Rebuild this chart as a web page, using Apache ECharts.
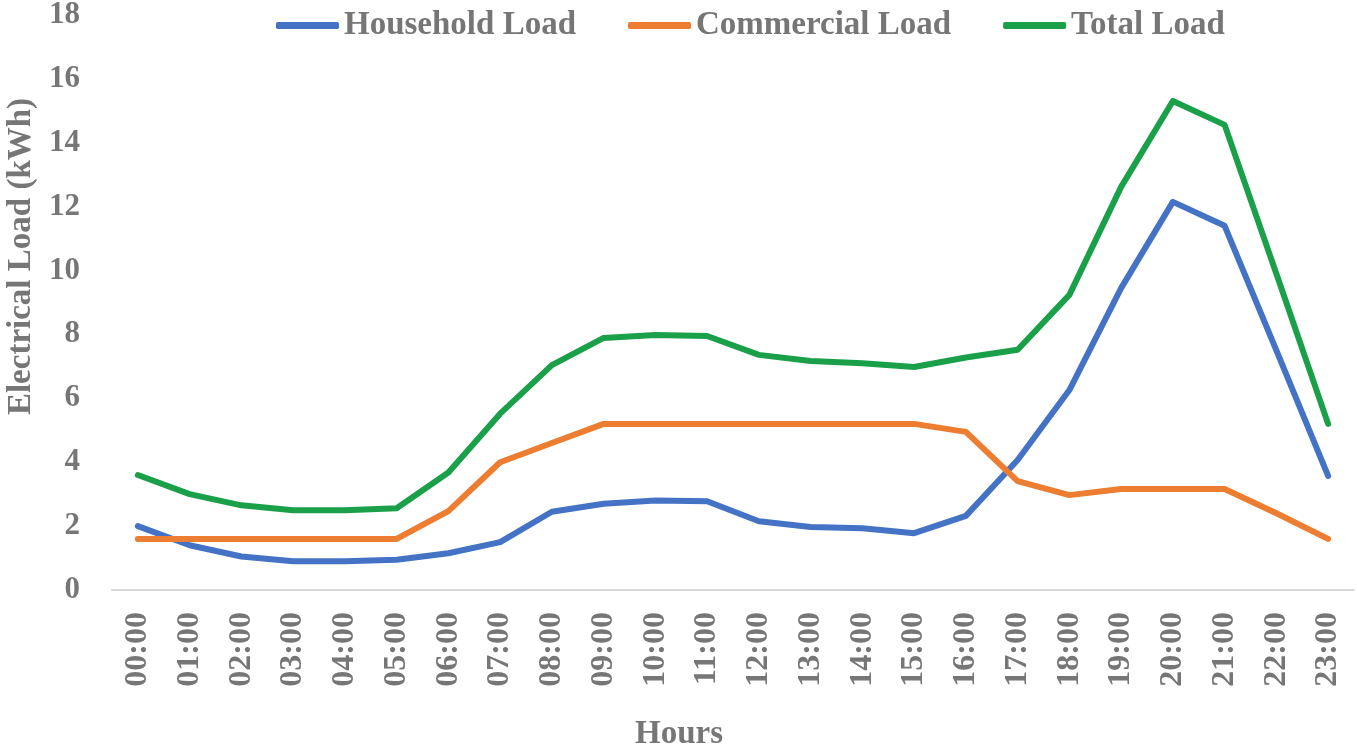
<!DOCTYPE html>
<html>
<head>
<meta charset="utf-8">
<script src="https://cdn.jsdelivr.net/npm/echarts@6/dist/echarts.min.js"></script>
<style>
html,body{margin:0;padding:0;background:#fff;}
#chart{width:1357px;height:747px;}
</style>
</head>
<body>
<div id="chart"></div>
<script>
var hours = ['00:00','01:00','02:00','03:00','04:00','05:00','06:00','07:00','08:00','09:00','10:00','11:00','12:00','13:00','14:00','15:00','16:00','17:00','18:00','19:00','20:00','21:00','22:00','23:00'];
var householdLoad = [2.0,1.4,1.05,0.9,0.9,0.95,1.15,1.5,2.45,2.7,2.8,2.78,2.15,1.97,1.93,1.78,2.32,4.07,6.26,9.45,12.15,11.4,7.5,3.57];
var commercialLoad = [1.6,1.6,1.6,1.6,1.6,1.6,2.47,4.0,4.6,5.2,5.2,5.2,5.2,5.2,5.2,5.2,4.95,3.41,2.97,3.16,3.16,3.16,2.4,1.6];
var totalLoad = [3.6,3.0,2.65,2.5,2.5,2.56,3.68,5.52,7.04,7.89,7.98,7.95,7.36,7.17,7.1,6.98,7.28,7.52,9.24,12.62,15.31,14.56,9.9,5.2];
var yTicks = [0,2,4,6,8,10,12,14,16,18];

var gray = '#767676';
var font = '"Liberation Serif","Times New Roman",serif';
var chart = echarts.init(document.getElementById('chart'));
function mk(name, data, color){
  return {name:name, type:'line', data:data, symbol:'none', showSymbol:false,
    lineStyle:{width:6, color:color, cap:'round', join:'round'}, itemStyle:{color:color}};
}
chart.setOption({
  animation:false,
  color:['#4472C4','#ED7D31','#1BA04A'],
  legend:{left:271, top:4, itemWidth:63, itemHeight:7, itemGap:52, icon:'roundRect',
    textStyle:{color:gray, fontFamily:font, fontWeight:'bold', fontSize:33},
    data:['Household Load','Commercial Load','Total Load']},
  grid:{left:112, right:3, top:15, bottom:157, containLabel:false, outerBoundsMode:'none'},
  xAxis:{type:'category', data:hours, boundaryGap:true,
    name:'Hours', nameLocation:'middle', nameGap:128,
    nameTextStyle:{color:gray, fontFamily:font, fontWeight:'bold', fontSize:33, padding:[0,108,0,0]},
    axisLine:{lineStyle:{color:'#d9d9d9', width:2}}, axisTick:{show:false},
    axisLabel:{rotate:90, margin:22, color:gray, fontFamily:font, fontWeight:'bold', fontSize:32, interval:0},
    splitLine:{show:false}},
  yAxis:{type:'value', min:yTicks[0], max:yTicks[yTicks.length-1], interval:2,
    name:'Electrical Load (kWh)', nameLocation:'middle', nameGap:74, nameRotate:90,
    nameTextStyle:{color:gray, fontFamily:font, fontWeight:'bold', fontSize:33, padding:[0,0,0,92]},
    axisLine:{show:false}, axisTick:{show:false}, splitLine:{show:false},
    axisLabel:{margin:32, color:gray, fontFamily:font, fontWeight:'bold', fontSize:31}},
  series:[mk('Household Load', householdLoad, '#4472C4'), mk('Commercial Load', commercialLoad, '#ED7D31'), mk('Total Load', totalLoad, '#1BA04A')]
});
</script>
</body>
</html>
